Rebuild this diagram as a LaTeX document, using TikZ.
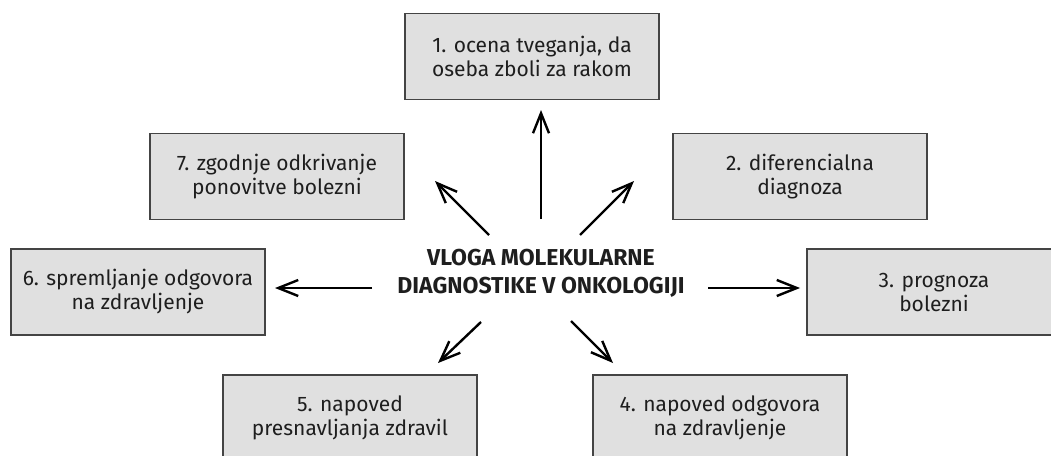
\documentclass[tikz,border=0pt]{standalone}
\usepackage{fontspec}
\setmainfont{Fira Sans}
\usetikzlibrary{arrows.meta}
\definecolor{boxfill}{HTML}{E0E0E0}
\definecolor{boxline}{HTML}{444444}
\definecolor{txt}{HTML}{1E1E1E}
\begin{document}
\begin{tikzpicture}[x=1pt,y=-1pt,
  box/.style={draw=boxline, fill=boxfill, line width=1.3pt, minimum width=254pt,
    minimum height=86pt, inner sep=0pt, align=center, text=txt,
    font=\fontsize{21}{24}\selectfont},
  arr/.style={line width=2.4pt, -{Straight Barb[length=20pt,width=16pt]}}]
\useasboundingbox (0,0) rectangle (1051,455);
\clip (0,0) rectangle (1051,455);
\node[box] (b1) at (532,56.5) {1. ocena tveganja, da\\oseba zboli za rakom};
\node[box] (b2) at (800,176.5) {2. diferencialna\\diagnoza};
\node[box] (b3) at (934,292) {3. prognoza\\bolezni};
\node[box] (b4) at (720,418) {4. napoved odgovora\\na zdravljenje};
\node[box] (b5) at (350,418) {5. napoved\\presnavljanja zdravil};
\node[box] (b6) at (138,292) {6. spremljanje odgovora\\na zdravljenje};
\node[box] (b7) at (277,176.5) {7. zgodnje odkrivanje\\ponovitve bolezni};
\node[align=center, text=txt, font=\bfseries\fontsize{23}{28}\selectfont] (c) at (541,273)
  {VLOGA MOLEKULARNE\\DIAGNOSTIKE V ONKOLOGIJI};
\coordinate (s1) at (541,219); \coordinate (e1) at (541,110);
\coordinate (s2) at (580,235); \coordinate (e2) at (634,181);
\coordinate (s3) at (708,288); \coordinate (e3) at (800,288);
\coordinate (s4) at (571,321); \coordinate (e4) at (613,363);
\coordinate (s5) at (481,322); \coordinate (e5) at (438,363);
\coordinate (s6) at (372,288); \coordinate (e6) at (275,288);
\coordinate (s7) at (489,235); \coordinate (e7) at (435,181);
\foreach \i in {1,...,7} {\draw[arr] (s\i) -- (e\i);}
\end{tikzpicture}
\end{document}
